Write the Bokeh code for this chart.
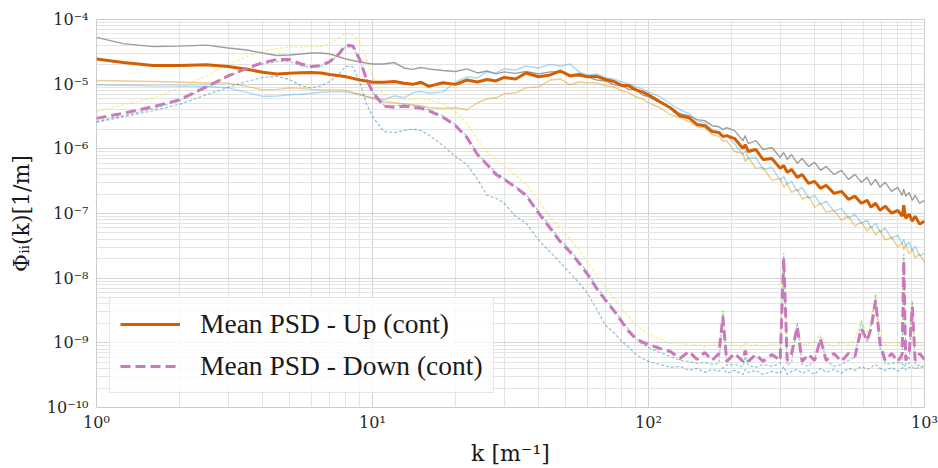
from bokeh.plotting import figure
from bokeh.models import Legend, LegendItem, FixedTicker, CustomJSTickFormatter
from bokeh.embed import file_html
from bokeh.resources import INLINE

# wavenumber grid k [1/m]
K = [1.0, 1.25, 1.6, 2.0, 2.5, 3.0, 3.5, 4.0, 4.5, 5.0,
     5.5, 6.0, 6.5, 7.0, 7.5, 8.0, 8.5, 9.0, 9.5, 10,
     11, 12, 13, 14, 15, 16, 18, 20, 22, 24,
     26, 28, 30, 33, 36, 40, 44, 48, 52, 56,
     60, 65, 70, 75, 80, 85, 90, 95, 100, 110,
     120, 130, 140, 150, 160, 170, 180, 186, 192, 205,
     220, 224, 230, 245, 260, 280, 300, 309, 318, 330,
     346, 360, 380, 400, 420, 440, 470, 500, 530, 560,
     590, 620, 640, 665, 690, 720, 760, 800, 830, 841,
     855, 880, 903, 925, 960, 1000]

# "Up" individual spectra (solid)
UP_GRAY = [5.29e-5, 4.24e-5, 3.81e-5, 3.88e-5, 4.02e-5, 3.62e-5, 3.37e-5, 3.03e-5, 2.78e-5, 2.83e-5,
           2.93e-5, 3.03e-5, 3.03e-5, 2.93e-5, 2.68e-5, 2.45e-5, 2.32e-5, 2.20e-5, 2.12e-5, 2.05e-5,
           2.05e-5, 2.16e-5, 1.78e-5, 1.69e-5, 1.81e-5, 1.72e-5, 1.63e-5, 1.57e-5, 1.72e-5, 1.49e-5,
           1.60e-5, 1.44e-5, 1.55e-5, 1.47e-5, 1.57e-5, 1.44e-5, 1.55e-5, 1.57e-5, 1.39e-5, 1.32e-5,
           1.30e-5, 1.16e-5, 1.12e-5, 9.76e-6, 9.42e-6, 8.32e-6, 8.17e-6, 6.85e-6, 6.38e-6, 5.16e-6,
           4.32e-6, 3.49e-6, 3.25e-6, 2.83e-6, 2.73e-6, 2.28e-6, 2.20e-6, 1.98e-6, 2.12e-6, 1.91e-6,
           1.34e-6, 1.60e-6, 1.20e-6, 1.34e-6, 9.76e-7, 1.05e-6, 7.35e-7, 8.77e-7, 6.85e-7, 8.17e-7,
           5.94e-7, 7.10e-7, 5.35e-7, 6.16e-7, 4.64e-7, 5.35e-7, 4.02e-7, 4.64e-7, 3.37e-7, 4.02e-7,
           3.03e-7, 3.62e-7, 2.73e-7, 3.37e-7, 2.54e-7, 3.03e-7, 2.20e-7, 2.54e-7, 1.91e-7, 2.37e-7,
           1.85e-7, 2.12e-7, 1.60e-7, 1.91e-7, 1.44e-7, 1.60e-7]

UP_BLUE = [9.76e-6, 9.58e-6, 9.42e-6, 9.32e-6, 9.19e-6, 8.77e-6, 7.48e-6, 6.49e-6, 6.54e-6, 6.85e-6,
           6.97e-6, 7.22e-6, 7.48e-6, 7.61e-6, 7.67e-6, 7.61e-6, 7.22e-6, 6.97e-6, 6.49e-6, 6.16e-6,
           5.73e-6, 6.61e-6, 6.16e-6, 7.35e-6, 7.75e-6, 7.22e-6, 7.61e-6, 1.08e-5, 1.30e-5, 1.25e-5,
           1.55e-5, 1.49e-5, 1.72e-5, 1.66e-5, 1.91e-5, 1.78e-5, 2.02e-5, 1.91e-5, 2.05e-5, 1.55e-5,
           1.39e-5, 1.44e-5, 1.25e-5, 1.20e-5, 1.08e-5, 1.01e-5, 9.09e-6, 8.47e-6, 7.61e-6, 6.38e-6,
           4.98e-6, 4.02e-6, 3.49e-6, 2.73e-6, 2.54e-6, 1.98e-6, 1.85e-6, 1.55e-6, 1.60e-6, 1.20e-6,
           8.17e-7, 9.42e-7, 7.10e-7, 7.35e-7, 4.80e-7, 5.16e-7, 3.25e-7, 3.75e-7, 2.83e-7, 3.14e-7,
           2.20e-7, 2.54e-7, 1.72e-7, 1.91e-7, 1.39e-7, 1.55e-7, 1.08e-7, 1.20e-7, 8.47e-8, 9.76e-8,
           7.10e-8, 7.89e-8, 5.94e-8, 7.10e-8, 5.16e-8, 5.94e-8, 4.17e-8, 4.64e-8, 3.37e-8, 4.02e-8,
           3.14e-8, 3.62e-8, 2.63e-8, 3.14e-8, 2.20e-8, 2.45e-8]

UP_ORANGE = [1.14e-5, 1.12e-5, 1.10e-5, 1.08e-5, 1.04e-5, 1.04e-5, 9.25e-6, 8.17e-6, 8.32e-6, 8.77e-6,
             8.62e-6, 8.32e-6, 8.17e-6, 8.17e-6, 8.17e-6, 8.03e-6, 7.48e-6, 6.85e-6, 6.38e-6, 6.05e-6,
             5.35e-6, 5.16e-6, 4.98e-6, 4.80e-6, 4.64e-6, 4.32e-6, 4.24e-6, 4.32e-6, 4.02e-6, 5.16e-6,
             5.94e-6, 6.16e-6, 7.10e-6, 7.35e-6, 8.77e-6, 9.09e-6, 1.16e-5, 1.20e-5, 9.76e-6, 1.08e-5,
             1.05e-5, 1.05e-5, 9.42e-6, 9.09e-6, 7.89e-6, 7.35e-6, 6.38e-6, 5.94e-6, 5.16e-6, 4.32e-6,
             3.37e-6, 3.03e-6, 2.63e-6, 2.20e-6, 2.12e-6, 1.66e-6, 1.55e-6, 1.30e-6, 1.34e-6, 9.09e-7,
             8.47e-7, 6.38e-7, 7.35e-7, 4.98e-7, 5.16e-7, 3.25e-7, 3.49e-7, 2.54e-7, 2.93e-7, 2.12e-7,
             2.37e-7, 1.66e-7, 1.85e-7, 1.25e-7, 1.44e-7, 1.05e-7, 1.12e-7, 7.89e-8, 9.09e-8, 6.38e-8,
             7.35e-8, 5.35e-8, 6.38e-8, 4.64e-8, 5.53e-8, 3.88e-8, 4.32e-8, 3.03e-8, 3.49e-8, 2.73e-8,
             3.25e-8, 2.37e-8, 2.83e-8, 2.05e-8, 2.37e-8, 1.72e-8]

UP_MEAN = [2.45e-5, 2.16e-5, 1.94e-5, 1.94e-5, 2.00e-5, 1.88e-5, 1.70e-5, 1.53e-5, 1.44e-5, 1.48e-5,
           1.50e-5, 1.51e-5, 1.49e-5, 1.41e-5, 1.36e-5, 1.30e-5, 1.23e-5, 1.16e-5, 1.12e-5, 1.07e-5,
           1.07e-5, 1.10e-5, 1.03e-5, 9.93e-6, 1.07e-5, 9.25e-6, 1.05e-5, 9.93e-6, 1.16e-5, 1.08e-5,
           1.18e-5, 1.12e-5, 1.27e-5, 1.20e-5, 1.49e-5, 1.30e-5, 1.39e-5, 1.60e-5, 1.34e-5, 1.41e-5,
           1.30e-5, 1.32e-5, 1.18e-5, 1.10e-5, 9.58e-6, 9.42e-6, 8.17e-6, 7.61e-6, 6.85e-6, 5.35e-6,
           4.32e-6, 3.25e-6, 3.03e-6, 2.37e-6, 2.28e-6, 1.85e-6, 1.78e-6, 1.55e-6, 1.60e-6, 1.44e-6,
           1.01e-6, 1.16e-6, 9.09e-7, 9.76e-7, 6.85e-7, 7.10e-7, 4.98e-7, 5.53e-7, 4.32e-7, 4.80e-7,
           3.62e-7, 4.02e-7, 2.93e-7, 3.14e-7, 2.45e-7, 2.73e-7, 2.05e-7, 2.20e-7, 1.66e-7, 1.85e-7,
           1.44e-7, 1.60e-7, 1.25e-7, 1.44e-7, 1.12e-7, 1.30e-7, 1.01e-7, 1.12e-7, 9.09e-8, 1.34e-7,
           8.47e-8, 9.76e-8, 7.61e-8, 9.09e-8, 6.85e-8, 7.61e-8]

# "Down" individual spectra (dashed)
DOWN_YELLOW = [3.79e-6, 4.80e-6, 6.16e-6, 8.77e-6, 1.34e-5, 2.02e-5, 2.68e-5, 3.25e-5, 3.58e-5, 3.71e-5,
               3.75e-5, 3.78e-5, 3.81e-5, 4.17e-5, 5.16e-5, 6.16e-5, 5.73e-5, 4.55e-5, 2.45e-5, 1.30e-5,
               6.85e-6, 5.94e-6, 5.73e-6, 5.94e-6, 6.05e-6, 5.73e-6, 4.98e-6, 3.75e-6, 2.45e-6, 1.39e-6,
               8.77e-7, 6.85e-7, 5.53e-7, 3.88e-7, 2.83e-7, 1.60e-7, 8.77e-8, 5.94e-8, 4.02e-8, 2.73e-8,
               1.78e-8, 1.08e-8, 7.10e-9, 4.80e-9, 3.37e-9, 2.54e-9, 1.91e-9, 1.60e-9, 1.34e-9, 1.16e-9,
               9.76e-10, 1.01e-9, 9.09e-10, 9.42e-10, 8.77e-10, 9.42e-10, 9.09e-10, 3.14e-9, 8.77e-10, 9.42e-10,
               8.47e-10, 1.01e-9, 9.09e-10, 9.42e-10, 8.77e-10, 9.76e-10, 9.09e-10, 2.12e-8, 9.42e-10, 8.77e-10,
               1.98e-9, 9.09e-10, 9.76e-10, 1.08e-9, 1.39e-9, 9.76e-10, 8.77e-10, 1.01e-9, 9.42e-10, 1.16e-9,
               2.20e-9, 1.39e-9, 2.20e-9, 5.73e-9, 1.39e-9, 9.42e-10, 9.76e-10, 1.05e-9, 9.09e-10, 1.98e-8,
               9.42e-10, 9.76e-10, 4.32e-9, 1.01e-9, 9.42e-10, 9.09e-10]

DOWN_GREEN = [2.66e-6, 3.25e-6, 4.17e-6, 5.53e-6, 8.93e-6, 1.32e-5, 1.72e-5, 2.05e-5, 2.24e-5, 2.24e-5,
              1.94e-5, 1.81e-5, 1.91e-5, 2.20e-5, 2.78e-5, 3.81e-5, 3.68e-5, 2.28e-5, 1.20e-5, 7.61e-6,
              4.72e-6, 4.64e-6, 4.80e-6, 4.64e-6, 4.48e-6, 4.02e-6, 3.25e-6, 2.37e-6, 1.55e-6, 8.47e-7,
              5.94e-7, 4.32e-7, 3.49e-7, 2.63e-7, 1.98e-7, 1.08e-7, 6.38e-8, 3.88e-8, 2.73e-8, 1.85e-8,
              1.25e-8, 7.35e-9, 4.80e-9, 3.25e-9, 2.20e-9, 1.60e-9, 1.16e-9, 9.42e-10, 8.47e-10, 7.10e-10,
              6.16e-10, 5.35e-10, 5.16e-10, 4.80e-10, 4.98e-10, 4.64e-10, 4.80e-10, 3.14e-9, 4.48e-10, 4.64e-10,
              4.32e-10, 6.16e-10, 4.48e-10, 4.17e-10, 4.64e-10, 4.32e-10, 4.80e-10, 2.45e-8, 4.48e-10, 4.98e-10,
              2.05e-9, 4.64e-10, 4.32e-10, 5.53e-10, 1.25e-9, 5.35e-10, 4.32e-10, 4.64e-10, 5.35e-10, 5.94e-10,
              2.20e-9, 1.01e-9, 1.78e-9, 5.53e-9, 8.17e-10, 4.64e-10, 4.80e-10, 4.98e-10, 4.64e-10, 2.37e-8,
              4.48e-10, 4.80e-10, 4.48e-9, 4.64e-10, 4.48e-10, 4.32e-10]

DOWN_BLUE = [2.57e-6, 3.14e-6, 3.88e-6, 4.88e-6, 6.85e-6, 8.93e-6, 1.10e-5, 1.27e-5, 1.32e-5, 1.18e-5,
             9.42e-6, 8.77e-6, 9.42e-6, 1.10e-5, 1.39e-5, 1.88e-5, 1.85e-5, 1.08e-5, 4.98e-6, 3.14e-6,
             1.85e-6, 1.78e-6, 1.91e-6, 2.02e-6, 1.91e-6, 1.63e-6, 1.12e-6, 7.61e-7, 5.73e-7, 3.37e-7,
             1.91e-7, 1.72e-7, 1.44e-7, 9.09e-8, 7.10e-8, 3.88e-8, 2.54e-8, 1.72e-8, 1.20e-8, 8.47e-9,
             5.94e-9, 3.25e-9, 1.85e-9, 1.44e-9, 1.05e-9, 8.47e-10, 6.61e-10, 5.73e-10, 5.16e-10, 4.64e-10,
             4.17e-10, 4.32e-10, 3.75e-10, 4.02e-10, 3.49e-10, 3.88e-10, 3.62e-10, 4.17e-10, 3.37e-10, 3.75e-10,
             3.25e-10, 3.88e-10, 3.49e-10, 3.75e-10, 3.25e-10, 3.62e-10, 3.37e-10, 4.32e-10, 3.25e-10, 3.62e-10,
             3.88e-10, 3.37e-10, 3.75e-10, 3.25e-10, 4.02e-10, 3.49e-10, 3.88e-10, 3.37e-10, 4.02e-10, 3.75e-10,
             4.32e-10, 3.88e-10, 4.17e-10, 4.64e-10, 4.02e-10, 3.75e-10, 4.17e-10, 3.62e-10, 4.02e-10, 4.64e-10,
             3.75e-10, 4.17e-10, 4.32e-10, 3.88e-10, 4.32e-10, 4.02e-10]

DOWN_MEAN = [2.96e-6, 3.55e-6, 4.48e-6, 5.73e-6, 9.09e-6, 1.34e-5, 1.76e-5, 2.15e-5, 2.41e-5, 2.41e-5,
             2.05e-5, 1.88e-5, 1.94e-5, 2.24e-5, 2.83e-5, 4.02e-5, 3.88e-5, 2.37e-5, 1.20e-5, 7.61e-6,
             4.55e-6, 4.40e-6, 4.55e-6, 4.40e-6, 4.24e-6, 3.88e-6, 3.08e-6, 2.28e-6, 1.49e-6, 8.17e-7,
             5.73e-7, 4.02e-7, 3.37e-7, 2.54e-7, 1.91e-7, 1.01e-7, 5.94e-8, 3.62e-8, 2.54e-8, 1.72e-8,
             1.16e-8, 6.85e-9, 4.48e-9, 3.14e-9, 2.12e-9, 1.49e-9, 1.16e-9, 1.03e-9, 9.42e-10, 8.17e-10,
             7.35e-10, 5.73e-10, 7.35e-10, 5.53e-10, 7.10e-10, 5.35e-10, 6.85e-10, 2.54e-9, 5.16e-10, 6.85e-10,
             5.16e-10, 7.61e-10, 5.16e-10, 6.61e-10, 5.16e-10, 6.61e-10, 5.35e-10, 2.05e-8, 5.35e-10, 6.85e-10,
             1.78e-9, 5.16e-10, 6.61e-10, 5.35e-10, 1.16e-9, 5.35e-10, 6.85e-10, 5.16e-10, 6.85e-10, 6.16e-10,
             1.66e-9, 1.08e-9, 1.66e-9, 4.48e-9, 9.76e-10, 5.35e-10, 6.85e-10, 5.16e-10, 6.61e-10, 1.85e-8,
             5.35e-10, 6.85e-10, 3.62e-9, 5.35e-10, 6.85e-10, 5.53e-10]

LABEL_UP = "Mean PSD - Up (cont)"
LABEL_DOWN = "Mean PSD - Down (cont)"
X_LABEL = "k [m\u207b\u00b9]"
Y_LABEL = "\u03a6\u1d62\u1d62(k)[1/m]"

p = figure(width=938, height=468, x_axis_type="log", y_axis_type="log",
           x_range=(1, 1000), y_range=(1e-10, 1e-4),
           output_backend="svg", toolbar_location=None,
           min_border_left=96, min_border_right=14, min_border_top=19, min_border_bottom=59)
p.background_fill_color = "white"
p.border_fill_color = "white"
p.outline_line_color = "#cccccc"
p.outline_line_width = 1

# individual spectra
p.line(K, UP_GRAY, line_color="#949494", line_width=1.4, line_alpha=0.9)
p.line(K, UP_BLUE, line_color="#56b4e9", line_width=1.4, line_alpha=0.5)
p.line(K, UP_ORANGE, line_color="#de8f05", line_width=1.4, line_alpha=0.45)
p.line(K, DOWN_YELLOW, line_color="#ece133", line_width=1.2, line_alpha=0.55, line_dash="3 2")
p.line(K, DOWN_GREEN, line_color="#029e73", line_width=1.2, line_alpha=0.45, line_dash="3 2")
p.line(K, DOWN_BLUE, line_color="#0173b2", line_width=1.2, line_alpha=0.45, line_dash="3 2")

# means
r_up = p.line(K, UP_MEAN, line_color="#d55e00", line_width=3)
r_down = p.line(K, DOWN_MEAN, line_color="#cc78bc", line_width=3, line_dash="10 5")

# ticks
xt = [1, 10, 100, 1000]
yt = [1e-10, 1e-9, 1e-8, 1e-7, 1e-6, 1e-5, 1e-4]
x_minor = [m * 10.0 ** e for e in range(0, 3) for m in range(2, 10)]
y_minor = [m * 10.0 ** e for e in range(-10, -4) for m in range(2, 10)]
p.xaxis.ticker = FixedTicker(ticks=xt, minor_ticks=x_minor)
p.yaxis.ticker = FixedTicker(ticks=yt, minor_ticks=y_minor)

fmt_code = """
const sup = {'-':'\u207b','0':'\u2070','1':'\u00b9','2':'\u00b2','3':'\u00b3','4':'\u2074',
             '5':'\u2075','6':'\u2076','7':'\u2077','8':'\u2078','9':'\u2079'};
const e = Math.round(Math.log10(tick));
return '10' + String(e).split('').map(c => sup[c]).join('');
"""
p.xaxis.formatter = CustomJSTickFormatter(code=fmt_code)
p.yaxis.formatter = CustomJSTickFormatter(code=fmt_code)

for ax in (p.xaxis[0], p.yaxis[0]):
    ax.major_tick_line_color = None
    ax.minor_tick_line_color = None
    ax.major_tick_out = 0
    ax.major_tick_in = 0
    ax.minor_tick_out = 0
    ax.minor_tick_in = 0
    ax.axis_line_color = None
    ax.major_label_text_font = "DejaVu Serif"
    ax.major_label_text_font_size = "16px"
    ax.major_label_text_color = "#262626"
    ax.axis_label_text_font = "DejaVu Serif"
    ax.axis_label_text_font_size = "22px"
    ax.axis_label_text_font_style = "normal"
    ax.axis_label_text_color = "#1a1a1a"

p.xaxis.major_label_standoff = 5
p.xaxis.axis_label_standoff = 6
p.yaxis.major_label_standoff = 8
p.yaxis.axis_label_standoff = 10

p.xaxis.axis_label = X_LABEL
p.yaxis.axis_label = Y_LABEL

p.xgrid.grid_line_color = "#d3d3d3"
p.ygrid.grid_line_color = "#d3d3d3"
p.xgrid.minor_grid_line_color = "#e4e4e4"
p.ygrid.minor_grid_line_color = "#e4e4e4"
p.xgrid.grid_line_width = 1
p.ygrid.grid_line_width = 1

legend = Legend(items=[LegendItem(label=LABEL_UP, renderers=[r_up]),
                       LegendItem(label=LABEL_DOWN, renderers=[r_down])],
                location=(13, 14))
legend.label_text_font = "Liberation Serif"
legend.label_text_font_size = "27.5px"
legend.label_text_color = "#1a1a1a"
legend.glyph_width = 60
legend.glyph_height = 20
legend.label_standoff = 20
legend.spacing = 10
legend.padding = 10
legend.margin = 0
legend.border_line_color = "#cccccc"
legend.border_line_width = 1
legend.background_fill_color = "white"
legend.background_fill_alpha = 0.8
p.add_layout(legend)

open("out.html", "w", encoding="utf-8").write(file_html(p, INLINE, title="PSD"))
